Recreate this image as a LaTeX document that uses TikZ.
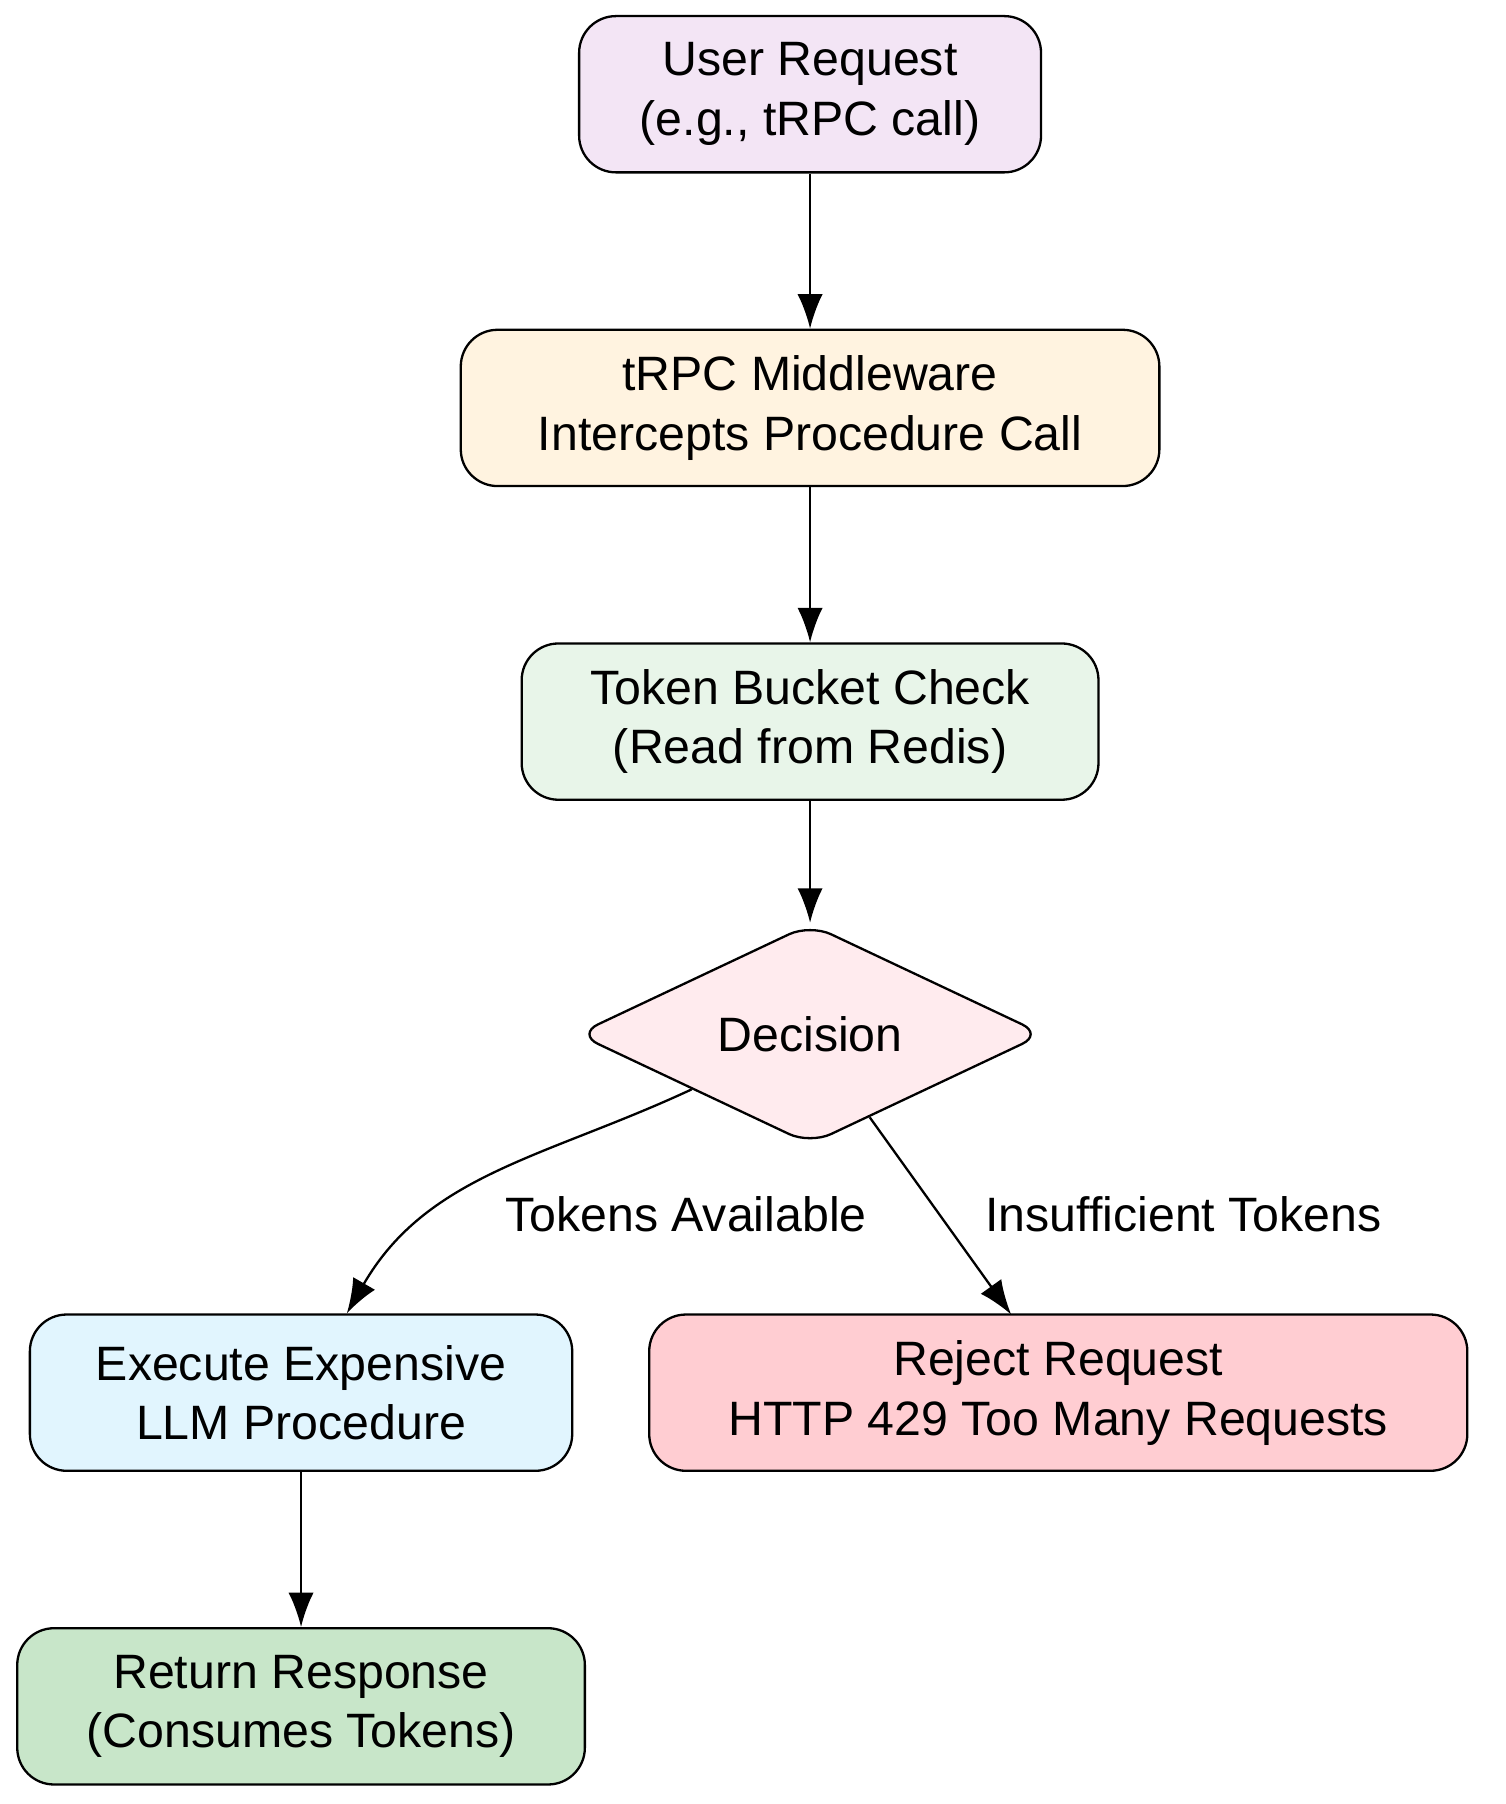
\documentclass[tikz,border=0pt]{standalone}
\usepackage{fontspec}
\setmainfont{Liberation Sans}
\usetikzlibrary{shapes.geometric,
                arrows.meta,
                positioning}
\definecolor{userfill}{HTML}{F3E5F5}
\definecolor{midfill}{HTML}{FFF3E0}
\definecolor{checkfill}{HTML}{E8F5E9}
\definecolor{decfill}{HTML}{FFEBEE}
\definecolor{execfill}{HTML}{E1F5FE}
\definecolor{rejfill}{HTML}{FFCDD2}
\definecolor{retfill}{HTML}{C8E6C9}
\tikzset{block/.style=
   {rectangle,
    draw,
    line width=1pt,
    text centered,
    align=center,
    rounded corners=16pt,
    minimum height=68pt,
    font=\fontsize{21}{26}\selectfont}}
\tikzset{decision/.style=
   {diamond,
    draw,
    line width=1pt,
    rounded corners=10pt,
    inner sep=0pt,
    minimum width=203pt,
    minimum height=64pt,
    font=\fontsize{21}{26}\selectfont}}
\tikzset{arrow/.style = {draw, line width=1pt, -{Latex[length=15pt, width=11pt]}}}
\tikzset{edgelabel/.style = {font=\fontsize{21}{26}\selectfont}}

\begin{document}
\begin{tikzpicture}[x=0.5pt, y=-0.5pt]
    \useasboundingbox (0,0) rectangle (1310,1570);

    \node [block, fill=userfill, minimum width=201pt] (user) at (705,82)
    {User Request\\(e.g., tRPC call)};
    \node [block, fill=midfill, minimum width=304pt] (middleware) at (705,355)
    {tRPC Middleware\\Intercepts Procedure Call};
    \node [block, fill=checkfill, minimum width=251pt] (bucket) at (705,628)
    {Token Bucket Check\\(Read from Redis)};
    \node [decision, fill=decfill] (decision) at (705,900) {Decision};
    \node [block, fill=execfill, minimum width=236pt] (execute) at (262,1212)
    {Execute Expensive\\LLM Procedure};
    \node [block, fill=rejfill, minimum width=356pt] (reject) at (921,1212)
    {Reject Request\\HTTP 429 Too Many Requests};
    \node [block, fill=retfill, minimum width=247pt] (response) at (262,1485)
    {Return Response\\(Consumes Tokens)};
    \coordinate (rejecttop) at (880,1144);

    \draw [arrow] (user) -- (middleware);
    \draw [arrow] (middleware) -- (bucket);
    \draw [arrow] (bucket) -- (decision);
    \draw [arrow] (decision) to [out=-155, in=60] (execute);
    \draw [arrow] (decision) -- (rejecttop);
    \draw [arrow] (execute) -- (response);

    \node [edgelabel] (availlabel) at (597,1057) {Tokens Available};
    \node [edgelabel] (insufflabel) at (1030,1057) {Insufficient Tokens};

\end{tikzpicture}
\end{document}
